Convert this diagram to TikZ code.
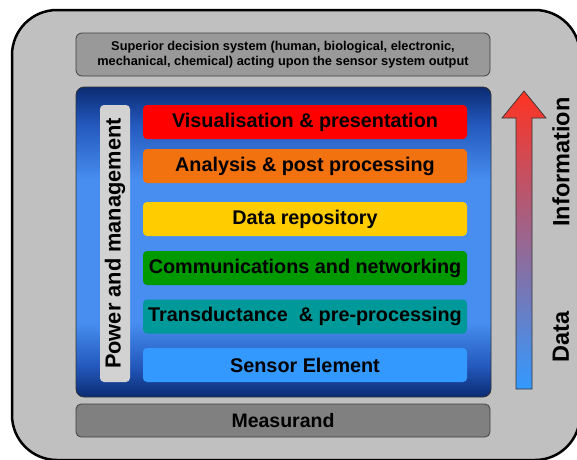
\documentclass[tikz,border=0pt]{standalone}
\usepackage{fontspec}
\setmainfont{Liberation Sans}
\usetikzlibrary{positioning}

\definecolor{casegrey}{HTML}{C0C0C0}
\definecolor{topgrey}{HTML}{999999}
\definecolor{measgrey}{HTML}{808080}
\definecolor{bargrey}{HTML}{D2D2D2}
\definecolor{navyblue}{HTML}{0A2B72}
\definecolor{midblue}{HTML}{2458BC}
\definecolor{skyblue}{HTML}{478EF0}
\definecolor{visred}{HTML}{FF0000}
\definecolor{anaorange}{HTML}{F27210}
\definecolor{repoyellow}{HTML}{FFCC00}
\definecolor{comgreen}{HTML}{009900}
\definecolor{transteal}{HTML}{009999}
\definecolor{sensblue}{HTML}{3399FF}
\definecolor{arrowred}{HTML}{FF3322}
\definecolor{arrowpink}{HTML}{C8609E}
\definecolor{arrowblue}{HTML}{3399FF}

\pgfdeclareverticalshading{panelshade}{100bp}{color(0bp)=(navyblue); color(25bp)=(navyblue); color(30bp)=(midblue); color(37bp)=(skyblue); color(60bp)=(skyblue); color(69bp)=(midblue); color(75bp)=(navyblue); color(100bp)=(navyblue)}

\begin{document}
\begin{tikzpicture}[x=1pt,y=-1pt,
  layer/.style={rounded corners=4pt,minimum width=324pt,minimum height=34pt,inner sep=0pt,
                font=\fontsize{19.8}{22}\selectfont\bfseries},
  greybox/.style={draw=black!75,line width=0.8pt,rounded corners=6pt,minimum width=414pt,inner sep=0pt}]
  \useasboundingbox (0,0) rectangle (577,459);

  % case and panel
  \draw[fill=casegrey,line width=2.5pt,rounded corners=45pt] (12,10) rectangle (580,460);
  \node[greybox,fill=topgrey,minimum height=43pt,align=center,
        font=\fontsize{12.8}{15.5}\selectfont\bfseries] (decision) at (283,54.5)
        {Superior decision system (human, biological, electronic,\\
         mechanical, chemical) acting upon the sensor system output};
  \node[draw=black!80,line width=0.8pt,rounded corners=8pt,shading=panelshade,
        minimum width=415pt,minimum height=310pt] (panel) at (283.5,242) {};
  \node[greybox,fill=measgrey,minimum height=33pt,rounded corners=5pt,
        font=\fontsize{19.5}{22}\selectfont\bfseries] (measurand) at (283,420.5) {Measurand};

  % power bar
  \node[fill=bargrey,rounded corners=4pt,rotate=90,minimum width=277pt,minimum height=30pt,
        inner sep=0pt,font=\fontsize{21.8}{24}\selectfont\bfseries] (power) at (115,243.5)
        {Power and management};

  % layers
  \node[layer,fill=visred]     (vis)    at (305,122)   {Visualisation \& presentation};
  \node[layer,fill=anaorange]  (ana)    at (305,166)   {Analysis \& post processing};
  \node[layer,fill=repoyellow] (repo)   at (305,219)   {Data repository};
  \node[layer,fill=comgreen]   (comms)  at (305,268)   {Communications and networking};
  \node[layer,fill=transteal]  (trans)  at (305,316.5) {Transductance~ \& pre-processing};
  \node[layer,fill=sensblue]   (sensor) at (305,365)   {Sensor Element};

  % data -> information arrow
  \coordinate (datatail) at (524,389);
  \coordinate (infotip)  at (524,91);
  \draw[draw=black!80,line width=0.7pt,top color=arrowred,middle color=arrowpink,bottom color=arrowblue]
    ([xshift=-8pt]datatail) -- ([xshift=8pt]datatail) -- ([xshift=8pt,yshift=-27pt]infotip)
    -- ([xshift=22pt,yshift=-27pt]infotip) -- (infotip) -- ([xshift=-22pt,yshift=-27pt]infotip)
    -- ([xshift=-8pt,yshift=-27pt]infotip) -- cycle;
  \node[rotate=90,font=\fontsize{23.5}{26}\selectfont\bfseries] (info) at (561,162) {Information};
  \node[rotate=90,font=\fontsize{23.5}{26}\selectfont\bfseries] (data) at (561,337) {Data};
\end{tikzpicture}
\end{document}
